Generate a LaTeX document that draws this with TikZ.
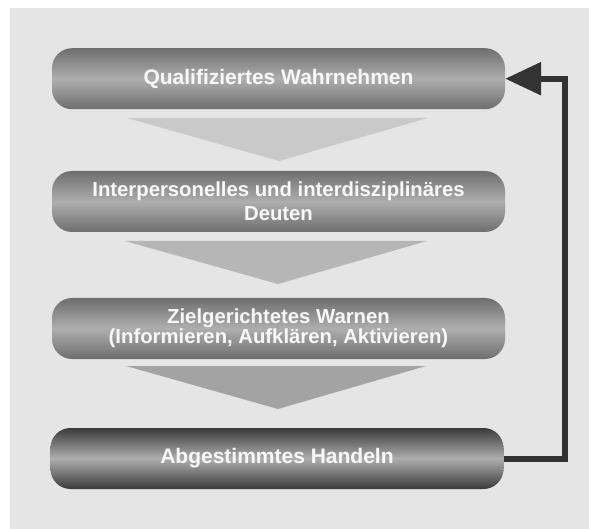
\documentclass[tikz,border=0pt]{standalone}
\usepackage{fontspec}
\setmainfont{Liberation Sans}
\usetikzlibrary{arrows.meta}
\definecolor{bggray}{HTML}{E5E5E5}
\definecolor{pilledge}{HTML}{6E6E6E}
\definecolor{pillmid}{HTML}{AEAEAE}
\definecolor{darkedge}{HTML}{3A3A3A}
\definecolor{tri1}{HTML}{C9C9C9}
\definecolor{tri2}{HTML}{B6B6B6}
\definecolor{tri3}{HTML}{A3A3A3}
\definecolor{linecol}{HTML}{333333}
\definecolor{txt}{HTML}{F8F8F8}
\tikzset{
  pill/.style={rounded corners=20pt, minimum width=453pt, minimum height=61pt,
    inner sep=0pt, align=center, text=txt, font=\bfseries\fontsize{20.3}{24}\selectfont,
    shading=axis, top color=pilledge, bottom color=pilledge, middle color=pillmid},
  bigtext/.style={font=\bfseries\fontsize{21}{24}\selectfont},
  darkpill/.style={pill, top color=darkedge, bottom color=darkedge, middle color=pillmid},
  feedback/.style={draw=linecol, line width=6pt, -{Triangle[length=36pt,width=32pt]}}
}
\begin{document}
\begin{tikzpicture}[x=1pt,y=-1pt]
\useasboundingbox (0,0) rectangle (589,529);
\fill[white] (0,0) rectangle (589,529);
\fill[bggray] (10,8) rectangle (589,529);

\fill[tri1] (127,118) -- (428,118) -- (279,161) -- cycle;
\fill[tri2] (125,241) -- (427,241) -- (278,284) -- cycle;
\fill[tri3] (126,366) -- (426,366) -- (278,409) -- cycle;

\node[pill, bigtext] (p1) at (278.5,78.7) {\raisebox{3.5pt}{Qualifiziertes Wahrnehmen}};
\node[pill] (p2) at (278.5,201.5) {Interpersonelles und interdisziplinäres\\Deuten};
\node[pill, font=\bfseries\fontsize{20.3}{19}\selectfont] (p3) at (278.5,328.5) {Zielgerichtetes Warnen\\(Informieren, Aufklären, Aktivieren)};
\node[darkpill, bigtext] (p4) at (277,458.5) {\raisebox{2.5pt}{Abgestimmtes Handeln}};

\coordinate (c1) at (565,458.5);
\draw[feedback] (p4.east) -- (c1) |- (p1.east);
\end{tikzpicture}
\end{document}
